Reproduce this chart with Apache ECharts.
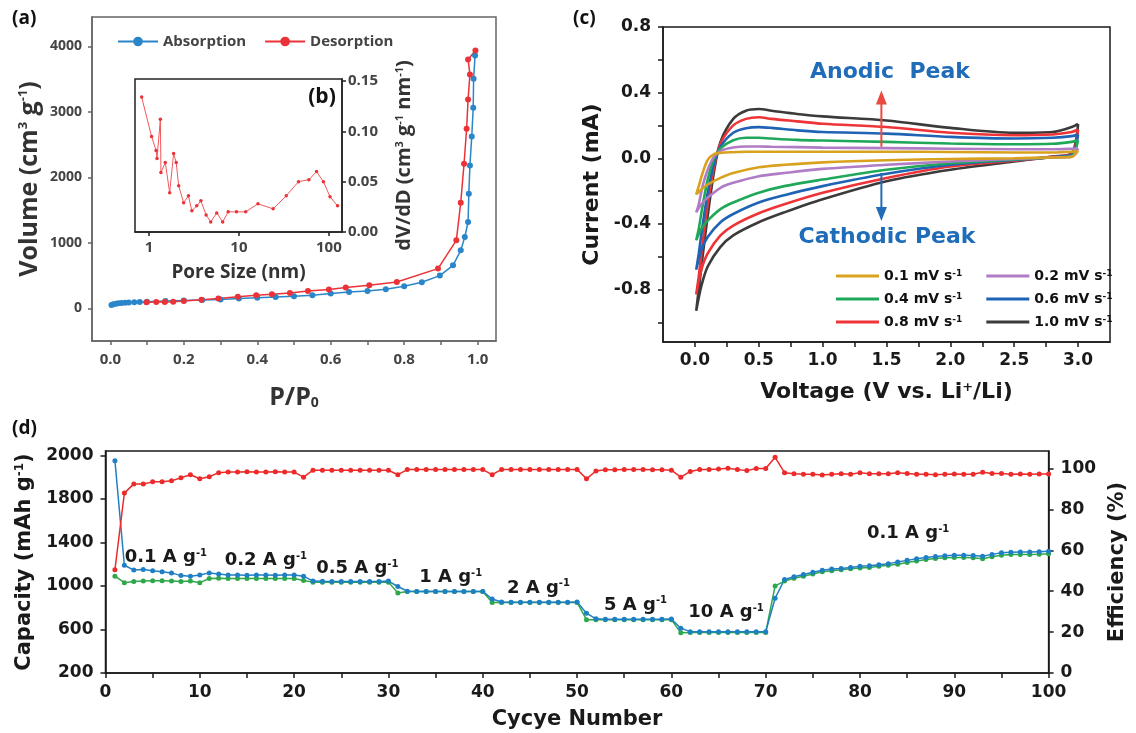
<!DOCTYPE html>
<html>
<head>
<meta charset="utf-8">
<title>Porous carbon anode: isotherm, pore size, CV and rate performance</title>
<script src="https://cdn.jsdelivr.net/npm/echarts@6/dist/echarts.min.js"></script>
<style>
  html, body { margin: 0; padding: 0; background: #fff; }
  #chart { width: 1136px; height: 733px; }
</style>
</head>
<body>
<div id="chart"></div>
<script>
// ---------- (a) N2 sorption isotherm ----------
const isoAdsP = [0.003,0.008,0.015,0.022,0.03,0.04,0.05,0.065,0.08,0.1,0.15,0.2,0.25,0.3,0.35,0.4,0.45,0.5,0.55,0.6,0.65,0.7,0.75,0.8,0.848,0.897,0.933,0.954,0.965,0.974,0.976,0.979,0.984,0.988,0.989,0.993];
const isoAdsV = [50,62,70,76,80,85,88,92,96,100,110,120,128,135,148,160,172,183,198,224,249,265,290,336,397,499,656,885,1089,1318,1751,2183,2626,3064,3507,3863];
const isoDesP = [0.994,0.974,0.979,0.974,0.970,0.963,0.954,0.942,0.892,0.780,0.705,0.641,0.595,0.538,0.489,0.440,0.397,0.347,0.294,0.248,0.200,0.171,0.148,0.125,0.098];
const isoDesV = [3939,3802,3573,3191,2743,2209,1614,1038,606,402,351,316,285,265,234,214,198,175,148,132,111,100,97,95,93];

// ---------- (b) pore size distribution ----------
const poreSize = [0.83,1.07,1.2,1.23,1.34,1.36,1.52,1.7,1.88,2.01,2.14,2.43,2.75,3.0,3.4,3.78,4.32,4.86,5.67,6.6,7.6,9.4,11.9,16.3,24,33.6,46,60,73,87,103,125];
const poreVolume = [0.134,0.095,0.081,0.073,0.112,0.059,0.069,0.039,0.078,0.069,0.046,0.029,0.036,0.021,0.026,0.031,0.017,0.010,0.019,0.010,0.020,0.020,0.020,0.028,0.023,0.036,0.050,0.052,0.060,0.050,0.035,0.026];

// ---------- (c) cyclic voltammetry ----------
const cathodicVoltage = [3.0,2.95,2.8,2.5,2.0,1.5,1.0,0.7,0.5,0.3,0.2,0.1,0.05,0.01];
const anodicVoltage = [0.03,0.06,0.1,0.15,0.2,0.3,0.4,0.5,0.6,0.8,1.0,1.5,2.0,2.5,2.8,2.95,3.0];
const scanRates = ['0.1','0.2','0.4','0.6','0.8','1.0'];
const cathodic01 = [0.045,0.008,0.005,0.0,-0.005,-0.012,-0.025,-0.04,-0.055,-0.09,-0.12,-0.16,-0.19,-0.22];
const anodic01 = [-0.17,-0.09,-0.01,0.025,0.033,0.037,0.04,0.04,0.04,0.04,0.04,0.04,0.038,0.035,0.035,0.04,0.045];
const cathodic02 = [0.06,0.01,0.005,-0.005,-0.02,-0.04,-0.065,-0.09,-0.11,-0.15,-0.18,-0.24,-0.28,-0.33];
const anodic02 = [-0.28,-0.17,-0.07,0.01,0.045,0.065,0.072,0.072,0.07,0.068,0.065,0.062,0.058,0.055,0.055,0.058,0.06];
const cathodic04 = [0.11,0.015,0.005,-0.008,-0.03,-0.07,-0.13,-0.17,-0.21,-0.27,-0.31,-0.38,-0.43,-0.5];
const anodic04 = [-0.43,-0.29,-0.13,0.0,0.06,0.11,0.125,0.125,0.12,0.112,0.108,0.1,0.09,0.085,0.088,0.1,0.11];
const cathodic06 = [0.145,0.02,0.008,-0.01,-0.04,-0.095,-0.17,-0.225,-0.27,-0.34,-0.39,-0.48,-0.56,-0.68];
const anodic06 = [-0.58,-0.41,-0.21,-0.03,0.07,0.155,0.183,0.19,0.185,0.17,0.16,0.15,0.13,0.12,0.125,0.135,0.145];
const cathodic08 = [0.175,0.025,0.01,-0.015,-0.05,-0.12,-0.21,-0.28,-0.335,-0.41,-0.47,-0.58,-0.68,-0.83];
const anodic08 = [-0.72,-0.52,-0.28,-0.05,0.09,0.20,0.24,0.25,0.24,0.225,0.21,0.19,0.155,0.14,0.145,0.16,0.175];
const cathodic10 = [0.21,0.03,0.01,-0.02,-0.07,-0.14,-0.25,-0.33,-0.39,-0.47,-0.54,-0.66,-0.78,-0.93];
const anodic10 = [-0.80,-0.60,-0.35,-0.08,0.10,0.24,0.29,0.30,0.29,0.27,0.255,0.23,0.185,0.155,0.16,0.19,0.21];

// ---------- (d) rate capability ----------
const dischargeCapacity = [2150,1190,1146,1150,1140,1130,1120,1095,1090,1100,
  1120,1110,1100,1100,1098,1100,1100,1098,1100,1100,
  1090,1045,1042,1040,1040,1040,1040,1040,1040,1045,
  995,952,950,950,950,950,950,950,950,950,
  880,852,850,850,850,850,850,850,850,852,
  750,698,695,695,695,695,695,695,695,697,
  612,580,578,578,578,578,580,578,578,578,
  887,1060,1085,1105,1125,1145,1155,1160,1170,1180,
  1185,1195,1205,1220,1235,1250,1262,1270,1278,1282,
  1282,1280,1272,1290,1305,1310,1312,1312,1315,1318];
const chargeCapacity = [1090,1030,1040,1045,1048,1048,1045,1040,1045,1030,
  1068,1070,1068,1068,1068,1068,1068,1068,1068,1068,
  1050,1035,1035,1035,1035,1035,1035,1035,1035,1035,
  935,948,948,948,948,948,948,948,948,948,
  848,848,848,848,848,848,848,848,848,848,
  690,690,690,690,690,690,690,690,690,690,
  570,572,572,572,572,572,572,572,572,572,
  1000,1045,1070,1090,1110,1130,1140,1148,1158,1165,
  1170,1180,1190,1200,1215,1230,1242,1252,1258,1262,
  1262,1260,1250,1268,1282,1288,1290,1290,1292,1295];
const coulombicEfficiency = [50.5,88,92.5,92.5,93.5,93.5,94,95.5,97,95,
  96,98,98.3,98.3,98.5,98.3,98.3,98.5,98.3,98.3,
  95.8,99.2,99.2,99.2,99.2,99.2,99.2,99.2,99.2,99.2,
  97,99.5,99.5,99.5,99.5,99.5,99.5,99.5,99.5,99.5,
  97,99.6,99.6,99.6,99.6,99.6,99.6,99.6,99.6,99.6,
  95,98.8,99.4,99.4,99.6,99.6,99.6,99.4,99.4,99.2,
  95.8,98.6,99.5,99.5,99.8,100.2,99.6,99,100,100,
  105.5,98,97.5,97.2,97.2,96.8,97.2,97.5,97.2,98,
  97.5,97.5,97.5,98,97.6,97.2,97.2,97,97.2,97.3,
  97.2,97.2,98.2,97.6,97.6,97.2,97.4,97.2,97.4,97.4];
const currentDensities = ['0.1','0.2','0.5','1','2','5','10','0.1'];
const capacityTicks = [200,600,1000,1400,1800,2200];
const capacityTickLabels = ['200','600','1000','1400','1800','2000'];

// ---------- layout & styling ----------
const cycleNumbers = dischargeCapacity.map((_, i) => i + 1);
const rateLabelAt = [[6.4,1265],[17.0,1238],[26.7,1165],[36.6,1082],[45.9,982],[56.2,826],[65.8,755],[85.1,1482]];

const FA = '"Open Sans", sans-serif';
const FD = '"DejaVu Sans", sans-serif';
const pair = (xs, ys) => xs.map((x, i) => [x, ys[i]]);
const cvLoop = (cath, anod) => pair(cathodicVoltage, cath).concat(pair(anodicVoltage, anod));

const labelA = { fontFamily: FA, fontWeight: 'bold', fontSize: 15, color: '#444' };
const labelD = { fontFamily: FD, fontWeight: 'bold', fontSize: 17, color: '#1a1a1a' };
const lineGray = { onZero: false, lineStyle: { color: '#666', width: 1.5 } };
const lineDark = { onZero: false, lineStyle: { color: '#1a1a1a', width: 1.5 } };
const supStyle = (size, font, color) => ({ fontSize: size, fontFamily: font, fontWeight: 'bold', color: color, verticalAlign: 'top' });

const cvColors = ['#d9a21e', '#b07cc6', '#1fa85a', '#1f63b5', '#ee3437', '#3b3b3b'];
const cvData = [cvLoop(cathodic01, anodic01), cvLoop(cathodic02, anodic02), cvLoop(cathodic04, anodic04),
                cvLoop(cathodic06, anodic06), cvLoop(cathodic08, anodic08), cvLoop(cathodic10, anodic10)];
const cvNames = scanRates.map(r => r + ' mV s');

// CV series, fastest scan drawn first so slower loops sit on top
const cvSeries = [];
for (let i = scanRates.length - 1; i >= 0; i--) {
  cvSeries.push({
    type: 'line', name: cvNames[i], xAxisIndex: 2, yAxisIndex: 2,
    data: cvData[i], symbol: 'none', smooth: 0.3,
    lineStyle: { color: cvColors[i], width: 2.6 }, itemStyle: { color: cvColors[i] }
  });
}
// peak-shift arrows: a shaft with a triangular head on its far end
const arrowLine = (from, to, color, pointsDown) => ({
  type: 'line', xAxisIndex: 2, yAxisIndex: 2, data: [from, to], silent: true, z: 5,
  showSymbol: true, showAllSymbol: true,
  symbol: (v, p) => (p.dataIndex === 1 ? 'triangle' : 'none'),
  symbolSize: [11, 14], symbolRotate: pointsDown ? 180 : 0,
  lineStyle: { color: color, width: 2 }, itemStyle: { color: color }
});

const cvLegend = (names, top) => ({
  data: names, left: 831, top: top, orient: 'horizontal',
  icon: 'rect', itemWidth: 43, itemHeight: 3, itemGap: 24,
  formatter: n => n + '{sup|-1}',
  textStyle: { fontFamily: FD, fontWeight: 'bold', fontSize: 14, color: '#111',
    rich: { sup: supStyle(9, FD, '#111') } }
});

const option = {
  animation: false,
  backgroundColor: '#fff',
  grid: [
    { left: 92, top: 17, width: 404, height: 324, show: true, borderColor: '#666', borderWidth: 1.5 },
    { left: 135, top: 79, width: 207, height: 153, show: true, borderColor: '#222', borderWidth: 1.5, backgroundColor: '#fff' },
    { left: 663, top: 27, width: 447, height: 315, show: true, borderColor: '#1a1a1a', borderWidth: 1.5 },
    { left: 105.5, top: 451, width: 960, height: 222, show: true, borderColor: '#1a1a1a', borderWidth: 1.5 }
  ],
  legend: [
    { data: ['Absorption', 'Desorption'], left: 112, top: 29, itemWidth: 40, itemHeight: 12, itemGap: 18,
      textStyle: { fontFamily: FA, fontWeight: 'bold', fontSize: 15, color: '#444' } },
    cvLegend([cvNames[0], cvNames[1]], 264),
    cvLegend([cvNames[2], cvNames[3]], 287),
    cvLegend([cvNames[4], cvNames[5]], 310)
  ],
  xAxis: [
    { gridIndex: 0, type: 'value', min: -0.05, max: 1.05,
      name: '{t|P/P}{sub|0}', nameLocation: 'middle', nameGap: 44,
      nameTextStyle: { rich: {
        t: { fontFamily: FA, fontWeight: 'bold', fontSize: 25, color: '#333' },
        sub: { fontFamily: FA, fontWeight: 'bold', fontSize: 14, color: '#333', verticalAlign: 'bottom' } } },
      axisLine: lineGray,
      axisTick: { customValues: [0,0.1,0.2,0.3,0.4,0.5,0.6,0.7,0.8,0.9,1.0], length: 4, lineStyle: { color: '#666', width: 1.5 } },
      axisLabel: Object.assign({ customValues: [0,0.2,0.4,0.6,0.8,1.0], formatter: v => v.toFixed(1), margin: 11 }, labelA),
      splitLine: { show: false } },
    { gridIndex: 1, type: 'log', logBase: 10, min: 0.7, max: 140,
      name: 'Pore Size (nm)', nameLocation: 'middle', nameGap: 31,
      nameTextStyle: { fontFamily: FA, fontWeight: 'bold', fontSize: 19, color: '#333' },
      axisLine: { onZero: false, lineStyle: { color: '#222', width: 1.5 } },
      axisTick: { length: 4, lineStyle: { color: '#222', width: 1.5 } },
      axisLabel: Object.assign({ showMinLabel: false, showMaxLabel: false, margin: 8 }, labelA),
      minorTick: { show: false }, splitLine: { show: false } },
    { gridIndex: 2, type: 'value', min: -0.25, max: 3.25,
      name: 'Voltage (V vs. Li{sup|+}/Li)', nameLocation: 'middle', nameGap: 39,
      nameTextStyle: { fontFamily: FD, fontWeight: 'bold', fontSize: 22, color: '#1a1a1a',
        rich: { sup: supStyle(13, FD, '#1a1a1a') } },
      axisLine: lineDark,
      axisTick: { customValues: [0,0.25,0.5,0.75,1.0,1.25,1.5,1.75,2.0,2.25,2.5,2.75,3.0], length: 5, lineStyle: { color: '#1a1a1a', width: 1.5 } },
      axisLabel: Object.assign({ customValues: [0,0.5,1.0,1.5,2.0,2.5,3.0], formatter: v => v.toFixed(1), margin: 10 }, labelD),
      splitLine: { show: false } },
    { gridIndex: 3, type: 'value', min: 0, max: 100,
      name: 'Cycye Number', nameLocation: 'middle', nameGap: 36,
      nameTextStyle: { fontFamily: FD, fontWeight: 'bold', fontSize: 21, color: '#1a1a1a' },
      axisLine: lineDark,
      axisTick: { customValues: [0,5,10,15,20,25,30,35,40,45,50,55,60,65,70,75,80,85,90,95,100], length: 5, lineStyle: { color: '#1a1a1a', width: 1.5 } },
      axisLabel: Object.assign({ customValues: [0,10,20,30,40,50,60,70,80,90,100], margin: 11 }, labelD),
      splitLine: { show: false } }
  ],
  yAxis: [
    { gridIndex: 0, type: 'value', min: -500, max: 4450,
      name: 'Volume (cm{sup|3} g{sup|-1})', nameLocation: 'middle', nameGap: 50,
      nameTextStyle: { fontFamily: FA, fontWeight: 'bold', fontSize: 25, color: '#333',
        rich: { sup: supStyle(13, FA, '#333') } },
      axisLine: lineGray,
      axisTick: { customValues: [0,1000,2000,3000,4000], length: 4, lineStyle: { color: '#666', width: 1.5 } },
      axisLabel: Object.assign({ customValues: [0,1000,2000,3000,4000], formatter: v => String(v), margin: 10 }, labelA, { fontSize: 14 }),
      splitLine: { show: false } },
    { gridIndex: 1, type: 'value', position: 'right', min: 0, max: 0.152,
      name: 'dV/dD (cm{sup|3} g{sup|-1} nm{sup|-1})', nameLocation: 'middle', nameGap: 52,
      nameTextStyle: { fontFamily: FA, fontWeight: 'bold', fontSize: 20, color: '#333',
        rich: { sup: supStyle(11, FA, '#333') } },
      axisLine: { onZero: false, lineStyle: { color: '#222', width: 1.5 } },
      axisTick: { customValues: [0,0.05,0.1,0.15], length: 4, lineStyle: { color: '#222', width: 1.5 } },
      axisLabel: Object.assign({ customValues: [0,0.05,0.1,0.15], formatter: v => v.toFixed(2), margin: 6 }, labelA),
      splitLine: { show: false } },
    { gridIndex: 2, type: 'value', min: -1.12, max: 0.8,
      name: 'Current (mA)', nameLocation: 'middle', nameGap: 60,
      nameTextStyle: { fontFamily: FD, fontWeight: 'bold', fontSize: 22, color: '#1a1a1a' },
      axisLine: lineDark,
      axisTick: { customValues: [-1.0,-0.8,-0.6,-0.4,-0.2,0,0.2,0.4,0.6,0.8], length: 5, lineStyle: { color: '#1a1a1a', width: 1.5 } },
      axisLabel: Object.assign({ customValues: [-0.8,-0.4,0,0.4,0.8], formatter: v => v.toFixed(1), margin: 12 }, labelD),
      splitLine: { show: false } },
    { gridIndex: 3, type: 'value', min: 200, max: 2240,
      name: 'Capacity (mAh g{sup|-1})', nameLocation: 'middle', nameGap: 68,
      nameTextStyle: { fontFamily: FD, fontWeight: 'bold', fontSize: 21, color: '#1a1a1a',
        rich: { sup: supStyle(12, FD, '#1a1a1a') } },
      axisLine: lineDark,
      axisTick: { customValues: capacityTicks, length: 5, lineStyle: { color: '#1a1a1a', width: 1.5 } },
      axisLabel: Object.assign({ customValues: capacityTicks, margin: 12,
        formatter: v => capacityTickLabels[capacityTicks.indexOf(v)] }, labelD),
      splitLine: { show: false } },
    { gridIndex: 3, type: 'value', position: 'right', min: 0, max: 108.6,
      name: 'Efficiency (%)', nameLocation: 'middle', nameGap: 47,
      nameTextStyle: { fontFamily: FD, fontWeight: 'bold', fontSize: 21, color: '#1a1a1a' },
      axisLine: lineDark,
      axisTick: { customValues: [0,20,40,60,80,100], length: 5, lineStyle: { color: '#1a1a1a', width: 1.5 } },
      axisLabel: Object.assign({ customValues: [0,20,40,60,80,100], margin: 12 }, labelD),
      splitLine: { show: false } }
  ],
  series: [
    // (a)
    { type: 'line', name: 'Absorption', xAxisIndex: 0, yAxisIndex: 0, data: pair(isoAdsP, isoAdsV),
      symbol: 'circle', symbolSize: 6, lineStyle: { color: '#2a86c9', width: 1.5 }, itemStyle: { color: '#2a86c9' } },
    { type: 'line', name: 'Desorption', xAxisIndex: 0, yAxisIndex: 0, data: pair(isoDesP, isoDesV),
      symbol: 'circle', symbolSize: 6, lineStyle: { color: '#ea3338', width: 1.5 }, itemStyle: { color: '#ea3338' } },
    // (b)
    { type: 'line', name: 'Pore size distribution', xAxisIndex: 1, yAxisIndex: 1, data: pair(poreSize, poreVolume),
      symbol: 'circle', symbolSize: 3.5, lineStyle: { color: '#f1595d', width: 1 }, itemStyle: { color: '#ea3338' } },
    // (c)
    ...cvSeries,
    arrowLine([1.46, 0.07], [1.46, 0.37], '#ea4a40', false),
    arrowLine([1.46, -0.09], [1.46, -0.34], '#1f6cb9', true),
    // (d)
    { type: 'line', name: 'Charge', xAxisIndex: 3, yAxisIndex: 3, data: pair(cycleNumbers, chargeCapacity),
      symbol: 'circle', symbolSize: 5, lineStyle: { color: '#2ea84a', width: 1.5 }, itemStyle: { color: '#2ea84a' } },
    { type: 'line', name: 'Discharge', xAxisIndex: 3, yAxisIndex: 3, data: pair(cycleNumbers, dischargeCapacity),
      symbol: 'circle', symbolSize: 5, lineStyle: { color: '#1f7fc4', width: 1.5 }, itemStyle: { color: '#1f7fc4' },
      markPoint: {
        silent: true, symbol: 'circle', symbolSize: 1, itemStyle: { color: 'rgba(0,0,0,0)' },
        label: { show: true, position: 'inside', formatter: p => p.name + ' A g{sup|-1}',
          fontFamily: FD, fontWeight: 'bold', fontSize: 18, color: '#1a1a1a',
          rich: { sup: supStyle(10, FD, '#1a1a1a') } },
        data: currentDensities.map((c, i) => ({ name: c, coord: rateLabelAt[i] }))
      } },
    { type: 'line', name: 'Coulombic efficiency', xAxisIndex: 3, yAxisIndex: 4, data: pair(cycleNumbers, coulombicEfficiency),
      symbol: 'circle', symbolSize: 5, lineStyle: { color: '#ec2a2a', width: 1.5 }, itemStyle: { color: '#ec2a2a' } }
  ],
  graphic: [
    { type: 'text', left: 12, top: 9, style: { text: '(a)', font: 'bold 19px "Open Sans"', fill: '#111' } },
    { type: 'text', x: 322, y: 97, style: { text: '(b)', font: 'bold 21px "Open Sans"', fill: '#111', textAlign: 'center', textVerticalAlign: 'middle' } },
    { type: 'text', left: 573, top: 9, style: { text: '(c)', font: 'bold 19px "Open Sans"', fill: '#111' } },
    { type: 'text', left: 12, top: 419, style: { text: '(d)', font: 'bold 19px "Open Sans"', fill: '#111' } },
    { type: 'text', x: 890, y: 72, style: { text: 'Anodic  Peak', font: 'bold 22px "DejaVu Sans"', fill: '#1f6cb9', textAlign: 'center', textVerticalAlign: 'middle' } },
    { type: 'text', x: 887, y: 237, style: { text: 'Cathodic Peak', font: 'bold 22px "DejaVu Sans"', fill: '#1f6cb9', textAlign: 'center', textVerticalAlign: 'middle' } }
  ]
};

const chart = echarts.init(document.getElementById('chart'));
chart.setOption(option);
</script>
</body>
</html>
